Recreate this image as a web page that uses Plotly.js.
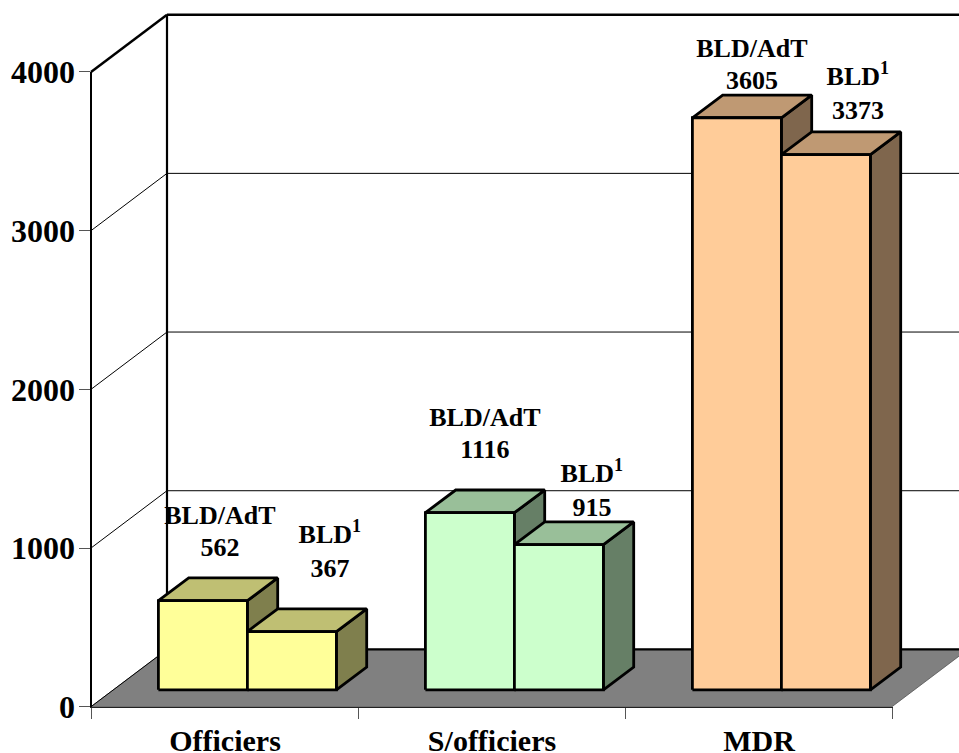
<!DOCTYPE html>
<html><head><meta charset="utf-8">
<script src="https://cdn.plot.ly/plotly-3.0.1.min.js"></script>
<style>html,body{margin:0;padding:0;background:#fff}#c{width:959px;height:753px}</style>
</head><body><div id="c"></div>
<script>
// ---- data ----
var categories = ['Officiers', 'S/officiers', 'MDR'];
var seriesNames = ['BLD/AdT', 'BLD<sup>1</sup>'];
var bldAdt = [562, 1116, 3605];
var bld = [367, 915, 3373];
var yTicks = [0, 1000, 2000, 3000, 4000];
// ---- colours ----
var fronts = ['#FFFF99', '#CCFFCC', '#FFCC99'];
var tops = ['#BFBF73', '#99BF99', '#BF9973'];
var sides = ['#7F7F4D', '#667F66', '#7F664D'];
// ---- scene geometry ----
var W = 959, H = 753;
var axisLeft = 91, catPx = 267, y0Px = 706.7, pxPerUnit = 0.15868;
var depthX = 76 / catPx, depthY = 57.3 / pxPerUnit;   // wall depth, in axis units
var barDX = 30.3 / catPx, barDY = 22.7 / pxPerUnit;   // bar depth
var barBase = 16.9 / pxPerUnit, barWidth = 89 / catPx, barInset = 67.4 / catPx;
var fontFam = '"Liberation Serif","Times New Roman",serif';
// label offsets from each bar's front-top centre, px: [dx, valueUp]
var labelOffsets = [[[17, 51], [38, 61]], [[15, 61], [33, 35]], [[15, 35], [32, 42]]];
var nameGaps = [32.5, 34.5];

var traces = [];
function poly(xs, ys, fill, lw, lc) {
  var t = {type: 'scatter', mode: 'lines', x: xs, y: ys, hoverinfo: 'skip', showlegend: false,
    line: {color: lc || '#000', width: lw === undefined ? 2.8 : lw}, xaxis: 'x', yaxis: 'y'};
  if (fill) { t.fill = 'toself'; t.fillcolor = fill; }
  traces.push(t);
}
// floor
var nCat = categories.length;
poly([0, nCat, nCat + depthX, depthX, 0], [0, 0, depthY, depthY, 0], '#808080', 0.8, '#555');
// back wall grid and diagonal lines
var maxT = yTicks[yTicks.length - 1];
yTicks.forEach(function (v, k) {
  var heavy = (v === maxT);
  if (v > 0) poly([depthX, nCat + depthX], [v + depthY, v + depthY], null, heavy ? 2.5 : 1);
  poly([0, depthX], [v, v + depthY], null, heavy ? 2.5 : 1);
});
poly([depthX, nCat + depthX], [depthY, depthY], null, 2.2);
poly([depthX, depthX], [depthY, maxT + depthY], null, 2.2);

// bars: drawn left to right
function bar(cat, slot, val) {
  var l = cat + barInset + slot * barWidth, r = l + barWidth, b = barBase, t = barBase + val;
  poly([r, r + barDX, r + barDX, r, r], [b, b + barDY, t + barDY, t, b], sides[cat]);
  poly([l, l + barDX, r + barDX, r, l], [t, t + barDY, t + barDY, t, t], tops[cat]);
  poly([l, r, r, l, l], [b, b, t, t, b], fronts[cat]);
}
var lx = [], ly = [], lt = [];
categories.forEach(function (c, i) {
  [bldAdt, bld].forEach(function (series, s) {
    bar(i, s, series[i]);
    var off = labelOffsets[i][s];
    var cx = i + barInset + (s + 0.5) * barWidth + off[0] / catPx;
    var vy = barBase + series[i] + off[1] / pxPerUnit;
    lx.push(cx, cx);
    ly.push(vy, vy + nameGaps[s] / pxPerUnit);
    lt.push('<b>' + series[i] + '</b>', '<b>' + seriesNames[s] + '</b>');
  });
});
// data labels
traces.push({type: 'scatter', mode: 'text', x: lx, y: ly, text: lt, textposition: 'middle center',
  textfont: {family: fontFam, size: 26, color: '#000'}, hoverinfo: 'skip', showlegend: false, xaxis: 'x', yaxis: 'y'});
// carrier for the visible axes
traces.push({type: 'scatter', mode: 'markers', x: categories, y: [0, 0, maxT], xaxis: 'x2', yaxis: 'y2',
  marker: {opacity: 0, size: 1}, hoverinfo: 'skip', showlegend: false});

var layout = {
  width: W, height: H, margin: {l: 0, r: 0, t: 0, b: 0}, paper_bgcolor: '#fff', plot_bgcolor: 'rgba(0,0,0,0)',
  showlegend: false,
  xaxis: {visible: false, fixedrange: true, domain: [0, 1], range: [-axisLeft / catPx, (W - axisLeft) / catPx]},
  yaxis: {visible: false, fixedrange: true, domain: [0, 1], range: [(y0Px - H) / pxPerUnit, y0Px / pxPerUnit]},
  xaxis2: {type: 'category', categoryorder: 'array', categoryarray: categories, range: [-0.5, 2.5],
    domain: [(axisLeft + 0.5) / W, (axisLeft + 0.5 + 3 * catPx) / W], anchor: 'y2',
    showgrid: false, zeroline: false, showline: true, linecolor: '#222', linewidth: 1,
    ticks: 'outside', tickson: 'boundaries', ticklen: 11, tickcolor: '#555', tickwidth: 1,
    ticklabelstandoff: 7,
    tickfont: {family: fontFam, size: 30, color: '#000'},
    tickvals: categories, ticktext: categories.map(function (c) { return '<b>' + c + '</b>'; })},
  yaxis2: {range: [0, maxT], domain: [(H - y0Px) / H, (H - y0Px + maxT * pxPerUnit) / H], anchor: 'x2',
    showgrid: false, zeroline: false, showline: true, linecolor: '#000', linewidth: 2,
    ticks: 'outside', ticklen: 11, tickcolor: '#555', tickwidth: 1,
    ticklabelstandoff: -3,
    tickvals: yTicks, ticktext: yTicks.map(function (v) { return '<b>' + v + '</b>'; }),
    tickfont: {family: fontFam, size: 32, color: '#000'}}
};
Plotly.newPlot('c', traces, layout, {staticPlot: true, displayModeBar: false});
</script></body></html>
